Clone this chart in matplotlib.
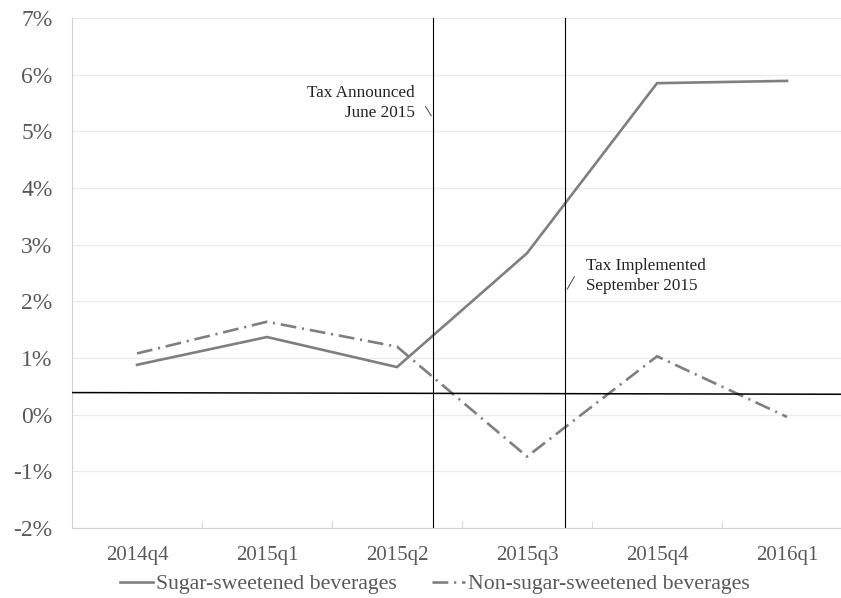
import numpy as np
import matplotlib
matplotlib.use('Agg')
import matplotlib.pyplot as plt
from matplotlib.ticker import FixedLocator

plt.rcParams['font.family'] = ['Liberation Serif', 'DejaVu Serif']

# 数据：季度与两类饮料价格变化（%）
quarters = ['2014q4', '2015q1', '2015q2', '2015q3', '2015q4', '2016q1']
ssb = [0.88, 1.37, 0.84, 2.85, 5.85, 5.89]
non_ssb = [1.08, 1.64, 1.20, -0.74, 1.03, -0.04]
# 参考线位置
announce_x = 2.275
implement_x = 3.29
baseline = [0.39, 0.36]

gray = '#7f7f7f'
tick_gray = '#595959'

fig = plt.figure(figsize=(8.41, 5.98), dpi=100)
ax = fig.add_axes([72 / 841, 70 / 598, 1 - 72 / 841, 510 / 598])

x = np.arange(len(quarters))
l1, = ax.plot(x, ssb, color=gray, lw=1.9, solid_joinstyle='miter',
              label='Sugar-sweetened beverages')
l2, = ax.plot(x, non_ssb, color=gray, lw=1.9, dashes=(6, 2.2, 0.8, 2.2),
              label='Non-sugar-sweetened beverages')

xmin, xmax = -0.5, 5.415
ax.plot([xmin, xmax], baseline, color='black', lw=1.1, zorder=3)
ax.axvline(announce_x, color='black', lw=0.8, zorder=3)
ax.axvline(implement_x, color='black', lw=0.8, zorder=3)

# 注释
ax.text(2.138, 5.50, 'Tax Announced\nJune 2015', ha='right', va='center',
        fontsize=12.3, color='#222222', linespacing=1.35)
ax.annotate('', xy=(announce_x, 5.23), xytext=(2.208, 5.48),
            arrowprops=dict(arrowstyle='-', color='#444444', lw=0.7))
ax.text(3.45, 2.45, 'Tax Implemented\nSeptember 2015', ha='left', va='center',
        fontsize=12.3, color='#222222', linespacing=1.35)
ax.annotate('', xy=(3.298, 2.17), xytext=(3.375, 2.48),
            arrowprops=dict(arrowstyle='-', color='#444444', lw=0.7))

ax.set_xlim(xmin, xmax)
ax.set_ylim(-2, 7)
ax.set_yticks(range(-2, 8))
ax.set_yticklabels(['%d%%' % v for v in range(-2, 8)])
ax.set_xticks(x)
ax.set_xticklabels(quarters)
ax.xaxis.set_minor_locator(FixedLocator(np.arange(0.5, 5, 1)))

ax.tick_params(axis='y', length=0, pad=14, labelsize=17, labelcolor=tick_gray)
ax.tick_params(axis='x', which='major', length=0, pad=13, labelsize=15,
               labelcolor=tick_gray)
ax.tick_params(axis='x', which='minor', direction='in', length=5,
               color='#d9d9d9', width=0.8)

ax.grid(axis='y', color='#ebebeb', lw=0.9)
ax.set_axisbelow(True)
for s in ['top', 'right']:
    ax.spines[s].set_visible(False)
ax.spines['left'].set_color('#d0d0d0')
ax.spines['bottom'].set_color('#d0d0d0')

fig.legend(handles=[l1, l2], loc='center', bbox_to_anchor=(435 / 841, 1 - 584 / 598),
           ncol=2, frameon=False, fontsize=15.7, handlelength=1.5,
           handletextpad=0.15, columnspacing=1.6, labelcolor=tick_gray)

fig.savefig('out.png', dpi=100)
